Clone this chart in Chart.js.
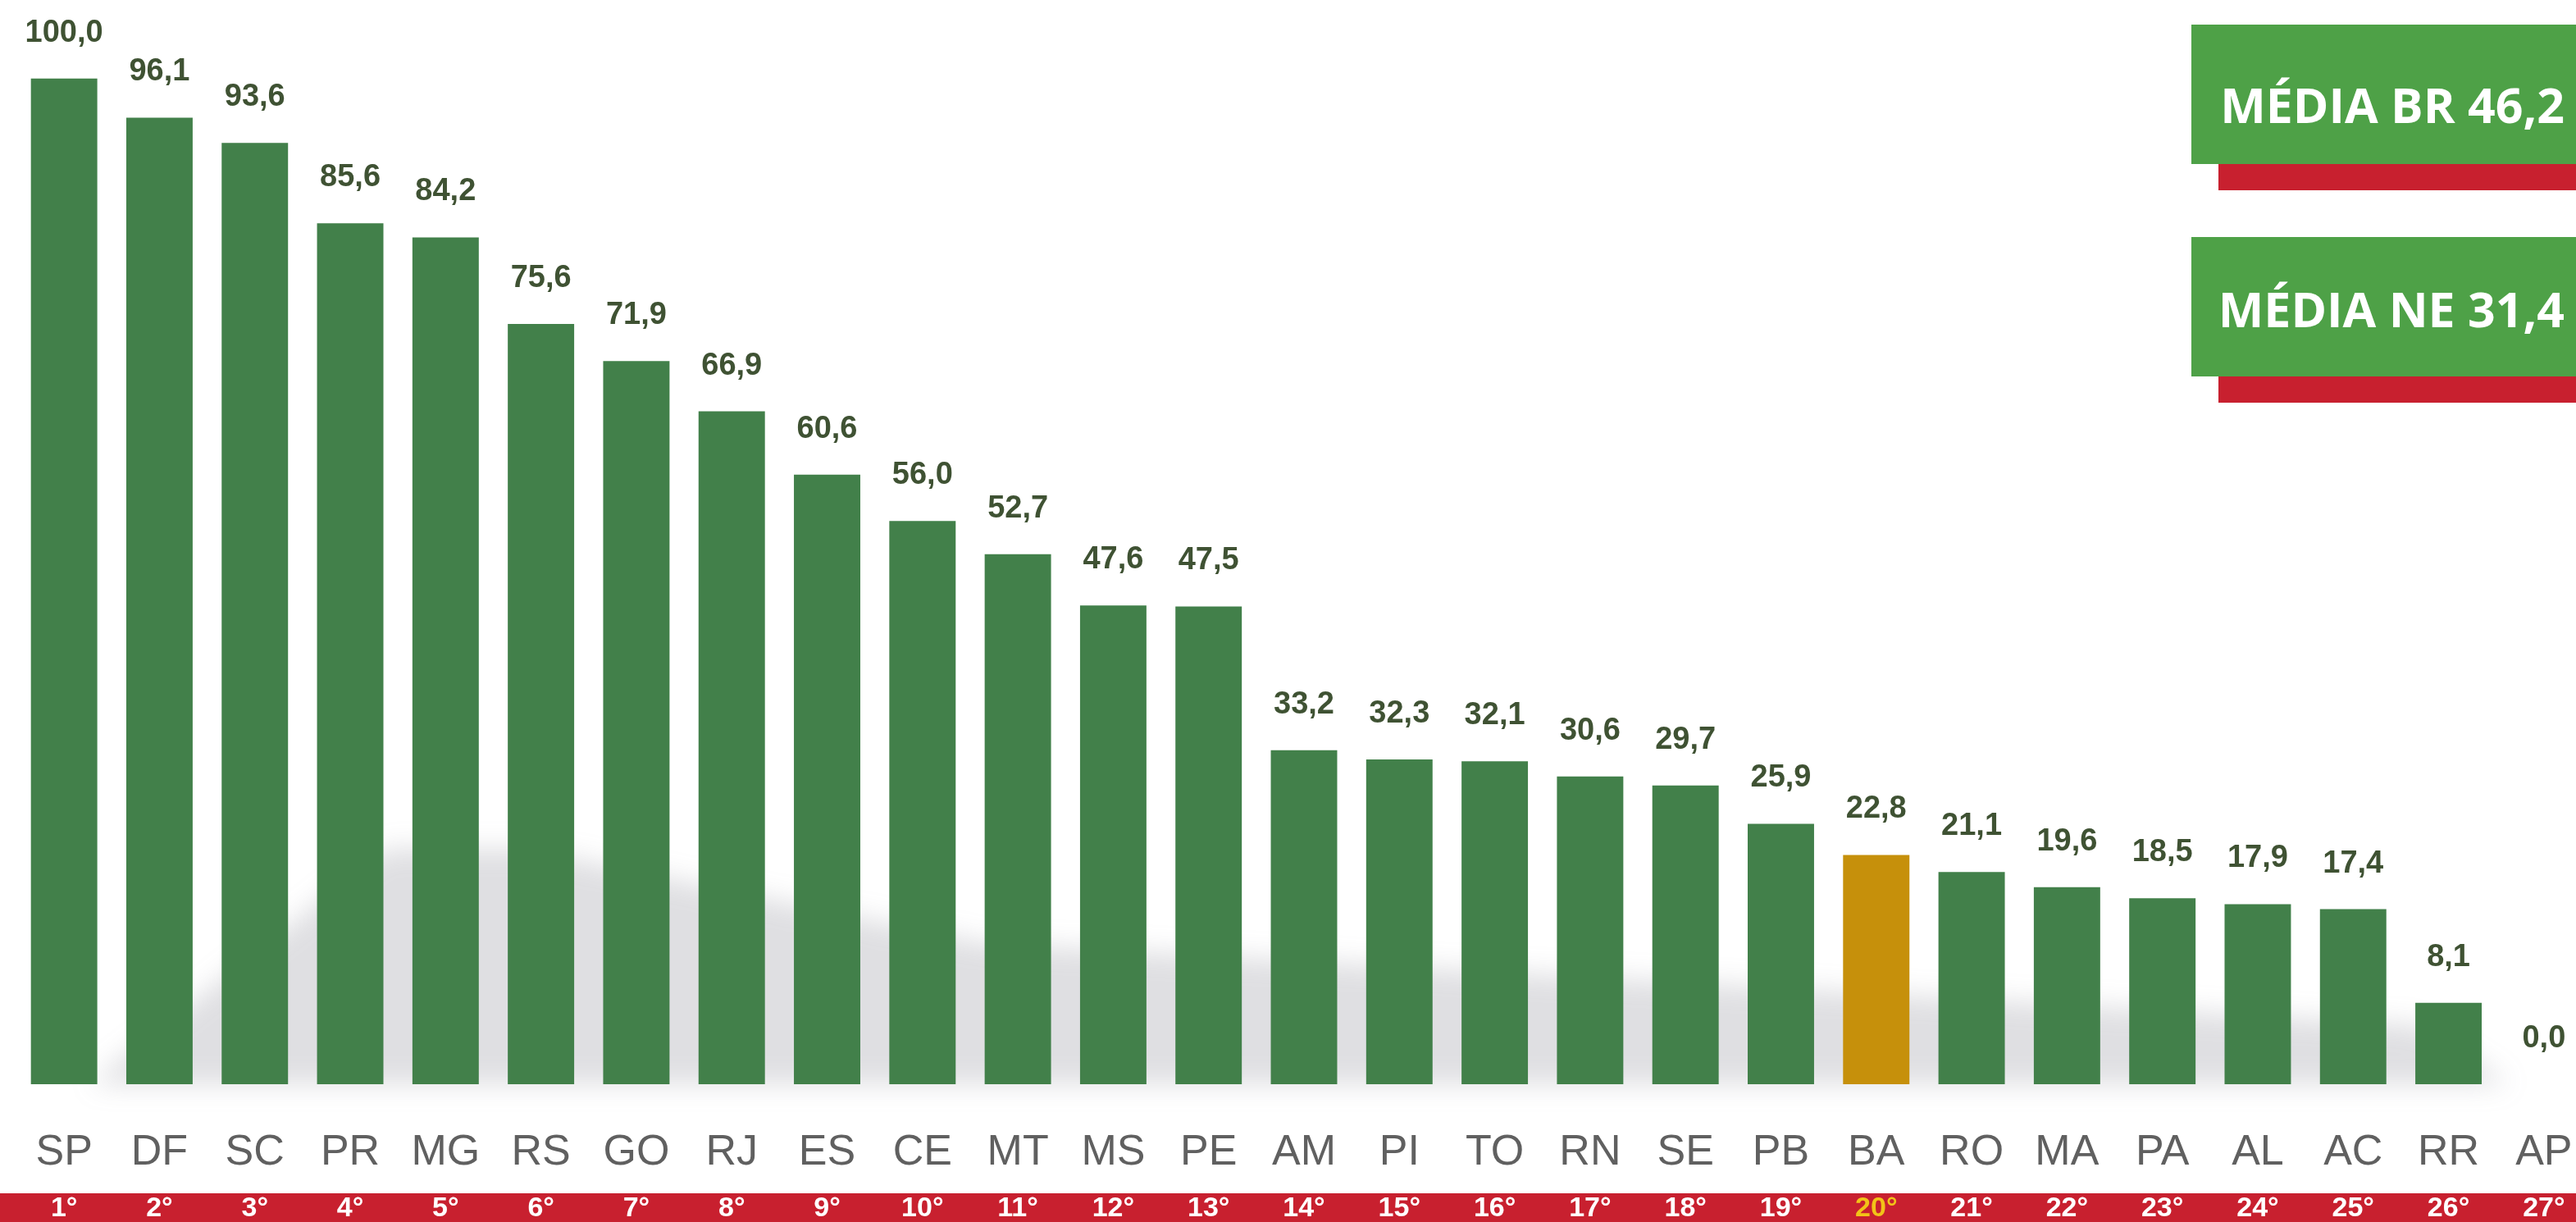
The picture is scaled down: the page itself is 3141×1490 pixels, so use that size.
<!DOCTYPE html>
<html>
<head>
<meta charset="utf-8">
<script src="https://cdn.jsdelivr.net/npm/chart.js@4"></script>
<style>
  html, body { margin: 0; padding: 0; background: #fff; }
  #wrap { position: relative; width: 3141px; height: 1490px; overflow: hidden; }
  #chart { position: absolute; left: 0; top: 0; }
  .box { position: absolute; background: #4ea147; }
  .under { position: absolute; background: #c8202f; }
  .box span {
    position: absolute; right: 14px;
    font-family: "Open Sans", sans-serif; font-weight: 700;
    font-size: 59px; line-height: 59px; color: #fff; white-space: nowrap;
  }
</style>
</head>
<body>
<div id="wrap">
  <!-- canvas a bit wider than the page: the last category runs past the right edge -->
  <canvas id="chart" width="3160" height="1490"></canvas>
  <div class="under" style="left:2705px;top:200px;width:436px;height:32px"></div>
  <div class="box" style="left:2672px;top:30px;width:469px;height:170px"><span style="top:68px">MÉDIA BR 46,2</span></div>
  <div class="under" style="left:2705px;top:459px;width:436px;height:32px"></div>
  <div class="box" style="left:2672px;top:289px;width:469px;height:170px"><span style="top:58px">MÉDIA NE 31,4</span></div>
</div>
<script>
// Data
const states = ["SP", "DF", "SC", "PR", "MG", "RS", "GO", "RJ", "ES", "CE", "MT", "MS", "PE", "AM",
  "PI", "TO", "RN", "SE", "PB", "BA", "RO", "MA", "PA", "AL", "AC", "RR", "AP"];
const values = [100.0, 96.1, 93.6, 85.6, 84.2, 75.6, 71.9, 66.9, 60.6, 56.0, 52.7, 47.6, 47.5, 33.2,
  32.3, 32.1, 30.6, 29.7, 25.9, 22.8, 21.1, 19.6, 18.5, 17.9, 17.4, 8.1, 0.0];
const ranks = ["1°", "2°", "3°", "4°", "5°", "6°", "7°", "8°", "9°", "10°", "11°", "12°", "13°", "14°",
  "15°", "16°", "17°", "18°", "19°", "20°", "21°", "22°", "23°", "24°", "25°", "26°", "27°"];
const highlight = "BA";

// Colors
const green = "#42804a";
const gold = "#c6900b";
const red = "#c8202f";

// Soft grey reflection behind the bars + red strip at the bottom
const backPlugin = {
  id: "back",
  beforeDatasetsDraw(chart) {
    const ctx = chart.ctx;
    const a = chart.chartArea;
    ctx.save();
    ctx.filter = "blur(16px)";
    ctx.fillStyle = "rgba(110,110,125,0.22)";
    ctx.beginPath();
    ctx.moveTo(110, a.bottom);
    ctx.lineTo(470, 1035);
    ctx.lineTo(640, 1035);
    ctx.lineTo(1200, 1150);
    ctx.lineTo(2000, 1195);
    ctx.lineTo(2950, 1250);
    ctx.lineTo(3060, a.bottom);
    ctx.closePath();
    ctx.fill();
    ctx.restore();
  },
  beforeDraw(chart) {
    const ctx = chart.ctx;
    ctx.save();
    ctx.fillStyle = red;
    ctx.fillRect(0, chart.height - 35, chart.width, 35);
    ctx.restore();
  }
};

// Value labels above bars, rank labels in the red strip
const labelPlugin = {
  id: "labels",
  afterDatasetsDraw(chart) {
    const ctx = chart.ctx;
    const meta = chart.getDatasetMeta(0);
    const xs = chart.scales.x;
    ctx.save();
    ctx.font = "bold 38px 'Liberation Sans', sans-serif";
    ctx.fillStyle = "#3f5233";
    ctx.textAlign = "center";
    ctx.textBaseline = "alphabetic";
    meta.data.forEach((bar, i) => {
      const txt = values[i].toFixed(1).replace(".", ",");
      ctx.fillText(txt, bar.x, bar.y - 45);
    });
    ctx.font = "bold 34px 'Liberation Sans Narrow', sans-serif";
    ctx.textBaseline = "middle";
    ranks.forEach((r, i) => {
      ctx.fillStyle = states[i] === highlight ? "#f2c318" : "#ffffff";
      ctx.fillText(r, xs.getPixelForTick(i), chart.height - 16);
    });
    ctx.restore();
  }
};

const ctx = document.getElementById("chart").getContext("2d");
const chart = new Chart(ctx, {
  type: "bar",
  data: {
    labels: states,
    datasets: [{
      data: values,
      backgroundColor: states.map(s => s === highlight ? gold : green),
      categoryPercentage: 1,
      barPercentage: 0.696
    }]
  },
  options: {
    responsive: false,
    animation: false,
    layout: { autoPadding: false, padding: { left: 20, right: 0, top: 0, bottom: 0 } },
    plugins: { legend: { display: false }, tooltip: { enabled: false } },
    scales: {
      y: { display: false, min: 0, max: 107.8 },
      x: {
        grid: { display: false, drawTicks: false },
        border: { display: false },
        afterFit(scale) {
          scale.height = 168;
          scale.paddingLeft = 0;
          scale.paddingRight = 0;
        },
        ticks: {
          color: "#606060",
          font: { family: "'Liberation Sans Narrow', sans-serif", size: 52 },
          padding: 52,
          maxRotation: 0,
          autoSkip: false
        }
      }
    }
  },
  plugins: [backPlugin, labelPlugin]
});
</script>
</body>
</html>
